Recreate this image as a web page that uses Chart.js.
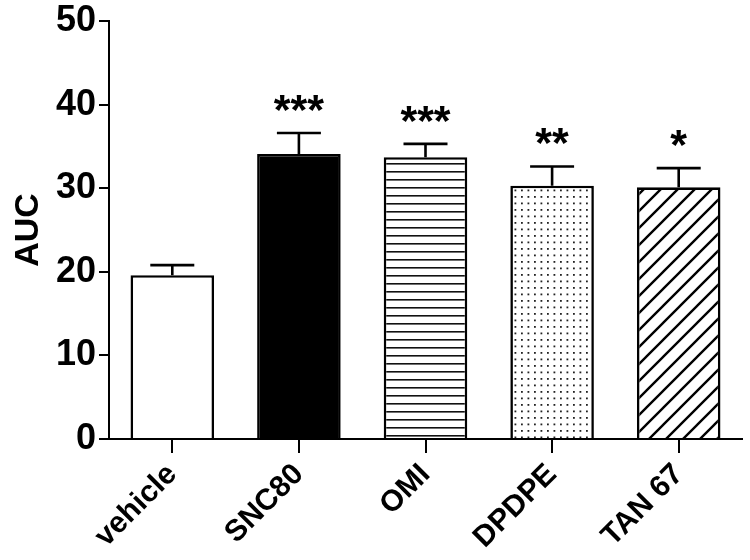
<!DOCTYPE html>
<html><head><meta charset="utf-8">
<script src="https://cdn.jsdelivr.net/npm/chart.js@4"></script>
<style>html,body{margin:0;padding:0;background:#fff;}#wrap{width:750px;height:560px;}</style>
</head><body><div id="wrap"><canvas id="c" width="750" height="560"></canvas></div>
<script>
const categories = ["vehicle", "SNC80", "OMI", "DPDPE", "TAN 67"];
const aucMeans = [19.6, 34.1, 33.7, 30.3, 30.1];
const aucErrors = [1.2, 2.5, 1.6, 2.3, 2.3];
const significance = ["", "***", "***", "**", "*"];
const yTickValues = [0, 10, 20, 30, 40, 50];

const FONT = '"Liberation Sans", Arial, Helvetica, sans-serif';

function makeTile(w, h, draw) {
  const c = document.createElement('canvas');
  c.width = w; c.height = h;
  const g = c.getContext('2d');
  g.fillStyle = '#fff'; g.fillRect(0, 0, w, h);
  draw(g, w, h);
  return document.getElementById('c').getContext('2d').createPattern(c, 'repeat');
}
const patHoriz = makeTile(8, 8, (g, w) => { g.fillStyle = '#111'; g.fillRect(0, 3, w, 1.6); });
const patDots = makeTile(13, 13, (g) => {
  g.fillStyle = '#222';
  [[1, 1], [7.5, 1], [1, 7.5], [7.5, 7.5]].forEach(p => g.fillRect(p[0], p[1], 1.8, 1.8));
});
const patDiag = makeTile(17, 17, (g, w, h) => {
  g.strokeStyle = '#000'; g.lineWidth = 2.4; g.lineCap = 'square';
  g.beginPath();
  g.moveTo(0, h); g.lineTo(w, 0);
  g.moveTo(-w / 2, h / 2); g.lineTo(w / 2, -h / 2);
  g.moveTo(w / 2, h * 1.5); g.lineTo(w * 1.5, h / 2);
  g.stroke();
});
const fills = ['#ffffff', '#000000', patHoriz, patDots, patDiag];

const errorPlugin = {
  id: 'errs',
  afterDatasetsDraw(chart) {
    const ctx = chart.ctx;
    const meta = chart.getDatasetMeta(0);
    const y = chart.scales.y;
    ctx.save();
    ctx.strokeStyle = '#000';
    ctx.lineWidth = 2.6;
    meta.data.forEach((bar, i) => {
      const x = bar.x;
      const yTop = y.getPixelForValue(aucMeans[i]);
      const yErr = y.getPixelForValue(aucMeans[i] + aucErrors[i]);
      ctx.beginPath();
      ctx.moveTo(x, yTop); ctx.lineTo(x, yErr);
      ctx.moveTo(x - 22, yErr); ctx.lineTo(x + 22, yErr);
      ctx.stroke();
      if (significance[i]) {
        ctx.fillStyle = '#000';
        ctx.font = 'bold 43px ' + FONT;
        ctx.textAlign = 'center';
        ctx.textBaseline = 'alphabetic';
        ctx.fillText(significance[i], x, yErr - 9);
      }
    });
    ctx.restore();
  }
};

new Chart(document.getElementById('c'), {
  type: 'bar',
  data: {
    labels: categories,
    datasets: [{
      data: aucMeans,
      backgroundColor: fills,
      borderColor: '#000',
      borderWidth: 2.6,
      borderSkipped: 'bottom',
      barPercentage: 0.66,
      categoryPercentage: 1.0
    }]
  },
  options: {
    responsive: false,
    animation: false,
    layout: { padding: { top: 21, right: 8, left: 0, bottom: 0 } },
    plugins: { legend: { display: false }, tooltip: { enabled: false } },
    scales: {
      x: {
        offset: true,
        grid: { display: true, offset: false, drawOnChartArea: false, drawTicks: true, tickLength: 14, color: '#000', lineWidth: 2 },
        border: { display: true, color: '#000', width: 2 },
        ticks: {
          color: '#000', autoSkip: false, maxRotation: 45, minRotation: 45, padding: 4,
          font: { family: FONT, size: 30, weight: 'bold' }
        },
        afterFit(s) { s.height = 121; }
      },
      y: {
        min: 0, max: 50,
        afterBuildTicks(s) { s.ticks = yTickValues.map(v => ({ value: v })); },
        grid: { display: true, drawOnChartArea: false, drawTicks: true, tickLength: 10, color: '#000', lineWidth: 2 },
        border: { display: true, color: '#000', width: 2 },
        ticks: {
          color: '#000', padding: 3,
          font: { family: FONT, size: 36, weight: 'bold', lineHeight: 1.0 }
        },
        title: {
          display: true, text: 'AUC', color: '#000',
          font: { family: FONT, size: 34, weight: 'bold' },
          padding: { top: 8, bottom: 0 }
        },
        afterFit(s) { s.width = 109; }
      }
    }
  },
  plugins: [errorPlugin]
});
</script>
</body></html>
